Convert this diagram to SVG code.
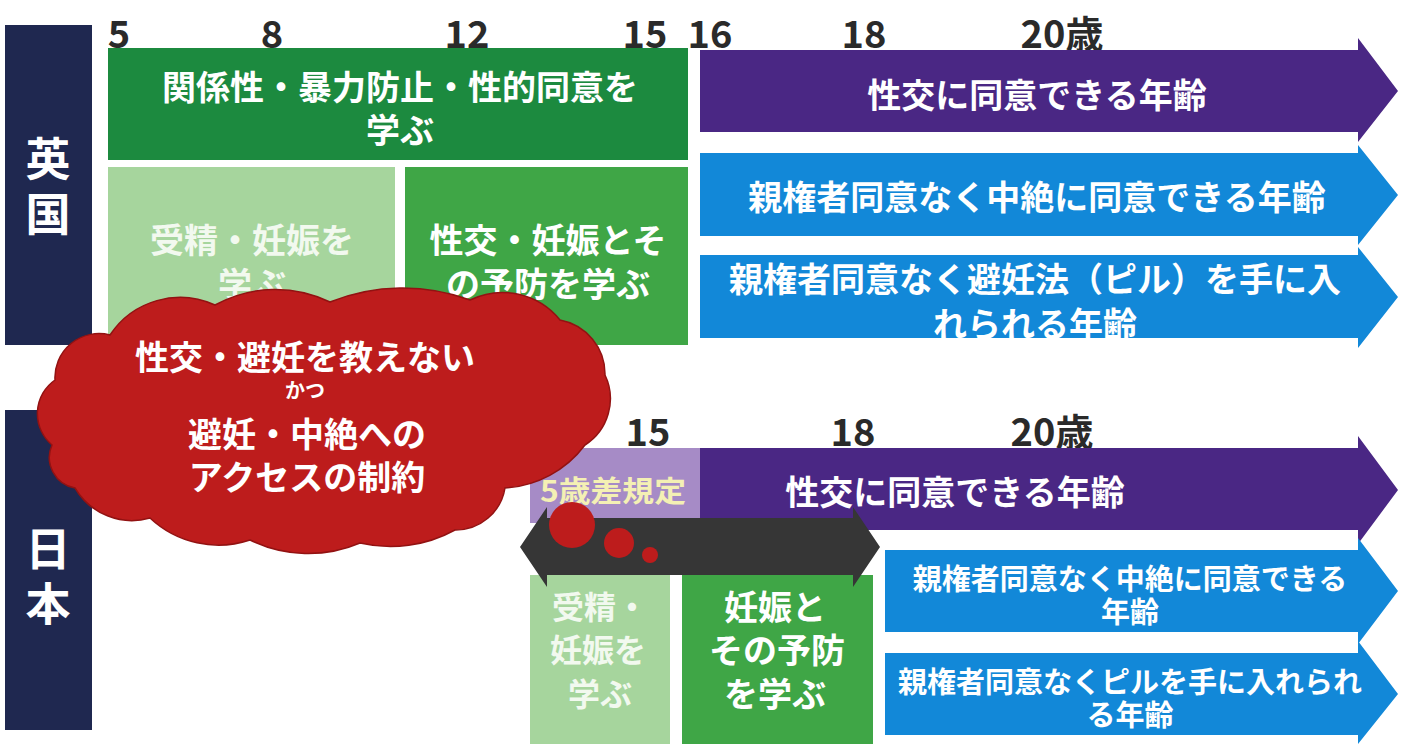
<svg xmlns="http://www.w3.org/2000/svg" width="1411" height="744" viewBox="0 0 1411 744">
<style>
text{font-family:"Noto Sans CJK JP","Noto Sans",sans-serif;font-weight:bold;text-anchor:middle;dominant-baseline:central}
.w{fill:#ffffff}
.num{fill:#2a2a2a;font-size:38px}
.t35{font-size:34px}
.t29{font-size:29px}
.navy{fill:#1f2850}
.dg{fill:#1c8a3f}
.lg{fill:#a6d59d}
.mg{fill:#3fa646}
.pu{fill:#4a2784}
.bl{fill:#1288d8}
.lt{fill:#f2f9ef}
.red{fill:#bd1c1c}
</style>
<rect width="1411" height="744" fill="#ffffff"/>

<g id="uk-ages">
<text class="num" x="119" y="31">5</text>
<text class="num" x="272" y="31">8</text>
<text class="num" x="467" y="31">12</text>
<text class="num" x="645" y="31">15</text>
<text class="num" x="710" y="31">16</text>
<text class="num" x="864" y="31">18</text>
<text class="num" x="1062" y="31">20歳</text>
</g>

<g id="uk-label">
<rect class="navy" x="5" y="25" width="87" height="320"/>
<text class="w" x="48" font-size="45"><tspan x="48" y="156">英</tspan><tspan x="48" y="211">国</tspan></text>
</g>

<g id="uk-relationship">
<rect class="dg" x="108" y="48" width="580" height="112"/>
<text class="w t35"><tspan x="400" y="85">関係性・暴力防止・性的同意を</tspan><tspan x="400" y="128">学ぶ</tspan></text>
</g>

<g id="uk-fertilisation">
<rect class="lg" x="108" y="167" width="287" height="178"/>
<text class="lt t35"><tspan x="252" y="238">受精・妊娠を</tspan><tspan x="252" y="282">学ぶ</tspan></text>
</g>

<g id="uk-intercourse">
<rect class="mg" x="405" y="167" width="283" height="178"/>
<text class="w t35"><tspan x="548" y="238">性交・妊娠とそ</tspan><tspan x="548" y="282">の予防を学ぶ</tspan></text>
</g>

<g id="uk-consent">
<polygon class="pu" points="700,50 1358,50 1358,38 1398,91 1358,142 1358,132 700,132"/>
<text class="w t35" x="1037" y="93">性交に同意できる年齢</text>
</g>

<g id="uk-abortion">
<polygon class="bl" points="700,153 1358,153 1358,145 1398,195 1358,245 1358,236 700,236"/>
<text class="w t35" x="1037" y="195">親権者同意なく中絶に同意できる年齢</text>
</g>

<g id="uk-pill">
<polygon class="bl" points="700,255 1358,255 1358,247 1398,297 1358,348 1358,338 700,338"/>
<text class="w t35"><tspan x="1035" y="277">親権者同意なく避妊法（ピル）を手に入</tspan><tspan x="1035" y="322">れられる年齢</tspan></text>
</g>

<g id="jp-ages">
<text class="num" x="648" y="429">15</text>
<text class="num" x="853" y="429">18</text>
<text class="num" x="1052" y="429">20歳</text>
</g>

<g id="jp-label">
<rect class="navy" x="5" y="410" width="87" height="320"/>
<text class="w" x="48" font-size="45"><tspan x="48" y="546">日</tspan><tspan x="48" y="601">本</tspan></text>
</g>

<g id="jp-five-year">
<rect fill="#a68bc6" x="530" y="448" width="172" height="75"/>
<text x="613" y="489" font-size="29" fill="#f4f0b4" textLength="146" lengthAdjust="spacingAndGlyphs">5歳差規定</text>
</g>

<g id="jp-consent">
<polygon class="pu" points="700,448 1358,448 1358,436 1398,490 1358,544 1358,530 700,530"/>
<text class="w t35" x="955" y="490">性交に同意できる年齢</text>
</g>

<g id="jp-abortion">
<polygon class="bl" points="885,550 1358,550 1358,538 1398,591 1358,644 1358,632 885,632"/>
<text class="w t29"><tspan x="1130" y="577">親権者同意なく中絶に同意できる</tspan><tspan x="1130" y="610">年齢</tspan></text>
</g>

<g id="jp-pill">
<polygon class="bl" points="885,653 1358,653 1358,641 1398,694 1358,744 1358,735 885,735"/>
<text class="w t29"><tspan x="1130" y="680">親権者同意なくピルを手に入れられ</tspan><tspan x="1130" y="713">る年齢</tspan></text>
</g>

<g id="jp-fertilisation">
<rect class="lg" x="530" y="575" width="140" height="169"/>
<text class="lt" font-size="32"><tspan x="600" y="605">受精・</tspan><tspan x="598" y="648">妊娠を</tspan><tspan x="600" y="692">学ぶ</tspan></text>
</g>

<g id="jp-pregnancy">
<rect class="mg" x="682" y="575" width="191" height="169"/>
<text class="w t35"><tspan x="775" y="605">妊娠と</tspan><tspan x="777" y="648">その予防</tspan><tspan x="775" y="692">を学ぶ</tspan></text>
</g>

<g id="connectors">
<polygon fill="#363636" points="520,547 547,507 547,518 853,518 853,507 880,547 853,587 853,575 547,575 547,587"/>
</g>

<g id="cloud">
<path class="red" stroke="#921212" stroke-width="1.5" d="M 52,445 A 41,41 0 0 1 55,380 A 44,44 0 0 1 110,335 A 84,84 0 0 1 215,305 A 125,125 0 0 1 330,302 A 195,195 0 0 1 470,300 A 74,74 0 0 1 560,320 A 55,55 0 0 1 605,375 A 55,55 0 0 1 585,445 A 108,108 0 0 1 505,488 A 50,50 0 0 1 455,530 A 134,134 0 0 1 360,543 A 132,132 0 0 1 250,540 A 100,100 0 0 1 150,518 A 66,66 0 0 1 75,488 A 31,31 0 0 1 52,445 Z"/>
<text class="w t35"><tspan x="305" y="355">性交・避妊を教えない</tspan><tspan x="305" y="389" font-size="20">かつ</tspan><tspan x="307" y="432">避妊・中絶への</tspan><tspan x="307" y="475">アクセスの制約</tspan></text>
<circle class="red" cx="572" cy="525" r="23"/>
<circle class="red" cx="619" cy="543" r="15"/>
<circle class="red" cx="650" cy="555" r="8"/>
</g>
</svg>
